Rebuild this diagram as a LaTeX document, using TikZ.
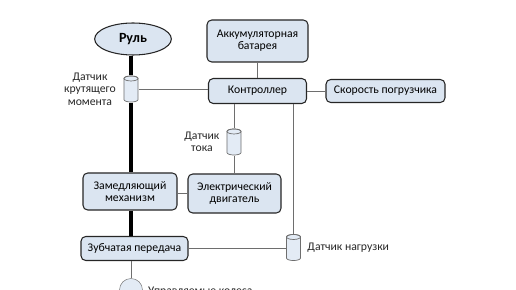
\documentclass[tikz,border=0pt]{standalone}
\usepackage{fontspec}
\setmainfont{Carlito}
\usetikzlibrary{positioning,shapes.geometric}
\definecolor{csiniy}{HTML}{DBE5F1}
\definecolor{ckontur}{HTML}{262626}
\definecolor{cseryy}{HTML}{6E6E6E}
\definecolor{cdatchik}{HTML}{E3EBF5}
\tikzset{
  blok/.style={rectangle, rounded corners=4pt, draw=ckontur, line width=0.9pt, fill=csiniy,
    align=center, inner sep=1pt, font=\fontsize{10}{10.5}\selectfont},
  datchik/.style={rectangle, minimum width=4.5mm, minimum height=8.1mm, inner sep=0pt,
    path picture={
      \draw[cseryy, fill=cdatchik, line width=0.6pt]
        ([xshift=0.4pt, yshift=-0.75mm-0.4pt]path picture bounding box.north west)
        -- ([xshift=0.4pt, yshift=0.75mm+0.4pt]path picture bounding box.south west)
        arc[start angle=180, end angle=360, x radius=2.25mm-0.4pt, y radius=0.75mm]
        -- ([xshift=-0.4pt, yshift=-0.75mm-0.4pt]path picture bounding box.north east)
        arc[start angle=0, end angle=180, x radius=2.25mm-0.4pt, y radius=0.75mm] -- cycle;
      \draw[cseryy, line width=0.6pt] ([yshift=-0.75mm-0.4pt]path picture bounding box.north)
        ellipse[x radius=2.25mm-0.4pt, y radius=0.75mm];
    }},
  liniya/.style={draw=cseryy, line width=0.8pt},
  val/.style={draw=black, line width=3pt},
  podpis/.style={align=center, inner sep=0pt, text=ckontur, font=\fontsize{10}{10.5}\selectfont},
}

\begin{document}
\begin{tikzpicture}[x=0.3mm, y=-0.3mm]
  \useasboundingbox (0,0) rectangle (516,290);
  \clip (0,0) rectangle (516,290);
  \node[ellipse, draw=ckontur, line width=0.9pt, fill=csiniy, minimum width=23mm, minimum height=9.6mm,
    font=\fontsize{12}{14}\selectfont\bfseries] (rul) at (133,39) {Руль};
  \node[blok, minimum width=30.3mm, minimum height=12.6mm] (akb) at (257.5,41) {Аккумуляторная\\батарея};
  \node[blok, minimum width=29.4mm, minimum height=7.5mm] (kontr) at (257.5,91) {Контроллер};
  \node[blok, minimum width=35.7mm, minimum height=6.9mm] (skor) at (385.5,91) {Скорость погрузчика};
  \node[datchik] (dkr) at (131,89) {};
  \node[podpis, left=2.2mm of dkr] (pkr) {Датчик\\крутящего\\момента};
  \node[datchik] (dtok) at (234,142) {};
  \node[podpis, left=2mm of dtok] (ptok) {Датчик\\тока};
  \node[blok, minimum width=28.2mm, minimum height=11.1mm] (zam) at (130,191.5) {Замедляющий\\механизм};
  \node[blok, minimum width=27.9mm, minimum height=11.7mm] (dvig) at (234.5,193.5) {Электрический\\двигатель};
  \node[blok, minimum width=32.1mm, minimum height=7.2mm] (zub) at (134.5,248.5) {Зубчатая передача};
  \node[datchik] (dnag) at (293.5,247.5) {};
  \node[podpis, right=1.8mm of dnag] (pnag) {Датчик нагрузки};
  \node[circle, draw=cseryy, fill=cdatchik, minimum size=6.9mm, inner sep=0pt] (koleso) at (131,290) {};
  \node[podpis, anchor=west] (pkol) at (148,292) {Управляемые колеса};
  % вал рулевого управления
  \draw[val] (rul.south -| dkr.north) -- (dkr.north);
  \draw[val] (dkr.south) -- (dkr.south |- zam.north);
  \draw[val] (zam.south -| dkr.south) -- (zub.north -| dkr.south);
  % связи
  \draw[liniya] (dkr.east) -- (dkr.east -| kontr.west);
  \draw[liniya] (akb) -- (kontr);
  \draw[liniya] (kontr) -- (skor);
  \draw[liniya] (dtok.north |- kontr.south) -- (dtok.north);
  \draw[liniya] (dtok.south) -- (dtok.south |- dvig.north);
  \draw[liniya] (zam.east |- dvig.west) -- (dvig.west);
  \draw[liniya] (zub.east) -- (zub.east -| dnag.west);
  \draw[liniya] (dnag.north |- kontr.south) -- (dnag.north);
  \draw[liniya] (zub.south -| koleso.north) -- (koleso.north);
\end{tikzpicture}
\end{document}
